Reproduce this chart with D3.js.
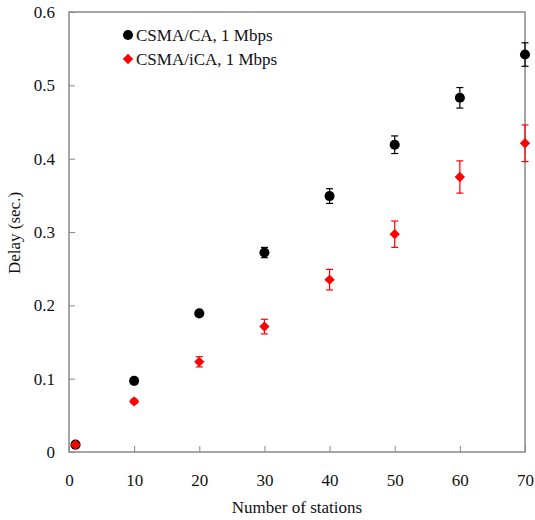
<!DOCTYPE html>
<html>
<head>
<meta charset="utf-8">
<script src="https://cdn.jsdelivr.net/npm/d3@7"></script>
<style>
  html, body { margin: 0; padding: 0; background: #fff; }
  text { font-family: "Liberation Serif", "Times New Roman", serif; fill: #111; }
</style>
</head>
<body>
<svg id="chart" width="535" height="520"></svg>
<script>
// Number of stations on the network
const stations = [1, 10, 20, 30, 40, 50, 60, 70];

// Mean delay (seconds) and error-bar half widths per protocol
const delayCA   = [0.010, 0.097, 0.189, 0.272, 0.349, 0.419, 0.483, 0.542];
const errCA     = [0.002, 0.003, 0.004, 0.007, 0.010, 0.012, 0.014, 0.016];
const delayICA  = [0.010, 0.069, 0.123, 0.171, 0.235, 0.297, 0.375, 0.421];
const errICA    = [0.002, 0.003, 0.007, 0.010, 0.014, 0.018, 0.022, 0.025];

const seriesNames = ["CSMA/CA, 1 Mbps", "CSMA/iCA, 1 Mbps"];
const xTicks = [0, 10, 20, 30, 40, 50, 60, 70];
const yTicks = [0, 0.1, 0.2, 0.3, 0.4, 0.5, 0.6];

const svg = d3.select("#chart");
const plotL = 69, plotR = 525, plotT = 12, plotB = 452;
const fontSize = 17;

const x = d3.scaleLinear().domain([0, 70]).range([plotL, plotR]);
const y = d3.scaleLinear().domain([0, 0.6]).range([plotB, plotT]);

const axisColor = "#888";

// Plot frame
svg.append("rect")
  .attr("x", plotL).attr("y", plotT)
  .attr("width", plotR - plotL).attr("height", plotB - plotT)
  .attr("fill", "none").attr("stroke", axisColor).attr("stroke-width", 1.5);

// Axes with inward ticks
const xAxis = svg.append("g").attr("transform", `translate(0,${plotB})`)
  .call(d3.axisBottom(x).tickValues(xTicks).tickSizeInner(-6).tickSizeOuter(0).tickPadding(22).tickFormat(d3.format("d")));
const yAxis = svg.append("g").attr("transform", `translate(${plotL},0)`)
  .call(d3.axisLeft(y).tickValues(yTicks).tickSizeInner(-6).tickSizeOuter(0).tickPadding(14).tickFormat(d => d === 0 ? "0" : d3.format(".1f")(d)));
[xAxis, yAxis].forEach(g => {
  g.select(".domain").remove();
  g.selectAll(".tick line").attr("stroke", axisColor).attr("stroke-width", 1);
  g.selectAll(".tick text").attr("font-size", fontSize).attr("font-family", "Liberation Serif").attr("fill", "#111");
});

// Axis titles
svg.append("text")
  .attr("x", 297).attr("y", 513)
  .attr("text-anchor", "middle").attr("font-size", fontSize)
  .text("Number of stations");
svg.append("text")
  .attr("transform", `translate(20,233) rotate(-90)`)
  .attr("text-anchor", "middle").attr("font-size", fontSize)
  .text("Delay (sec.)");

const diamond = d3.symbolDiamond2 || d3.symbolDiamond;
const circleSize = 80, diamondSize = 68;

function drawSeries(vals, errs, color, shape, size) {
  const g = svg.append("g");
  const data = stations.map((s, i) => ({ s, v: vals[i], e: errs[i] }));
  // error bars
  data.forEach(d => {
    const cx = x(d.s);
    g.append("line").attr("x1", cx).attr("x2", cx)
      .attr("y1", y(d.v - d.e)).attr("y2", y(d.v + d.e))
      .attr("stroke", color).attr("stroke-width", 1.2);
    [d.v - d.e, d.v + d.e].forEach(v => {
      g.append("line").attr("x1", cx - 3.5).attr("x2", cx + 3.5)
        .attr("y1", y(v)).attr("y2", y(v))
        .attr("stroke", color).attr("stroke-width", 1.2);
    });
  });
  g.selectAll("path.mark").data(data).join("path")
    .attr("class", "mark")
    .attr("transform", d => `translate(${x(d.s)},${y(d.v)})`)
    .attr("d", d3.symbol().type(shape).size(size))
    .attr("fill", color);
}

drawSeries(delayCA, errCA, "#000", d3.symbolCircle, circleSize);
drawSeries(delayICA, errICA, "#f00", diamond, diamondSize);

// Legend
const legend = svg.append("g");
[["#000", d3.symbolCircle, circleSize], ["#f00", diamond, diamondSize]].forEach((m, i) => {
  const cy = 35 + i * 24;
  legend.append("path")
    .attr("transform", `translate(128,${cy})`)
    .attr("d", d3.symbol().type(m[1]).size(m[2]))
    .attr("fill", m[0]);
  legend.append("text")
    .attr("x", 136).attr("y", cy + 6)
    .attr("font-size", fontSize)
    .text(seriesNames[i]);
});
</script>
</body>
</html>
